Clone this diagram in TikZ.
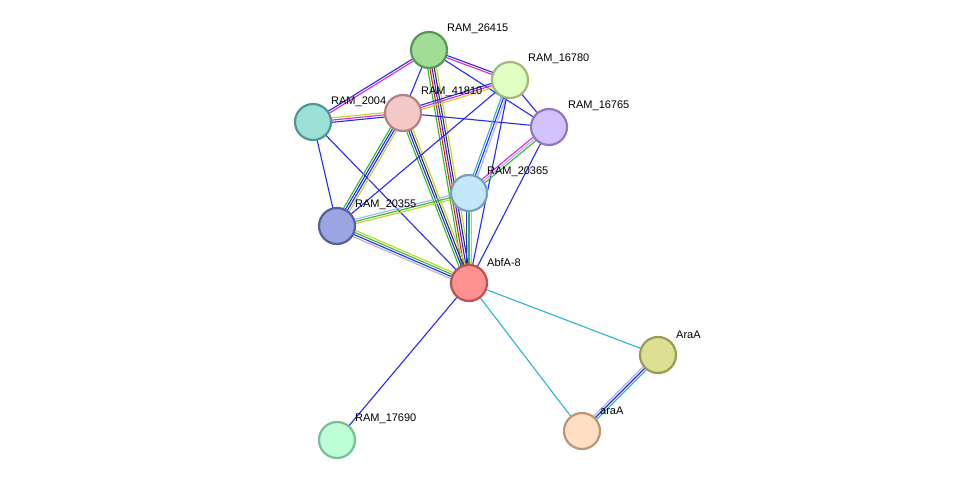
\documentclass[tikz,border=0pt]{standalone}
\usepackage{fontspec}
\setmainfont{Liberation Sans}
\usetikzlibrary{calc,backgrounds}
\definecolor{eblue}{RGB}{40,40,240}
\definecolor{emag}{RGB}{220,40,220}
\definecolor{egreen}{RGB}{40,190,40}
\definecolor{ered}{RGB}{240,30,30}
\definecolor{eblack}{RGB}{50,50,50}
\definecolor{eyel}{RGB}{190,210,40}
\definecolor{ecyan}{RGB}{40,180,210}
\definecolor{elav}{RGB}{170,170,250}
\definecolor{d1}{RGB}{90,150,90}\definecolor{f1}{RGB}{160,222,150}
\definecolor{d2}{RGB}{160,185,125}\definecolor{f2}{RGB}{225,255,195}
\definecolor{d3}{RGB}{80,150,145}\definecolor{f3}{RGB}{155,225,215}
\definecolor{d4}{RGB}{180,130,130}\definecolor{f4}{RGB}{245,200,200}
\definecolor{d5}{RGB}{145,120,190}\definecolor{f5}{RGB}{210,195,255}
\definecolor{d6}{RGB}{120,160,190}\definecolor{f6}{RGB}{195,232,252}
\definecolor{d7}{RGB}{85,95,155}\definecolor{f7}{RGB}{155,165,225}
\definecolor{d8}{RGB}{190,80,80}\definecolor{f8}{RGB}{255,145,145}
\definecolor{d9}{RGB}{155,155,85}\definecolor{f9}{RGB}{222,222,148}
\definecolor{d10}{RGB}{185,150,120}\definecolor{f10}{RGB}{255,222,195}
\definecolor{d11}{RGB}{120,190,150}\definecolor{f11}{RGB}{190,255,215}
\tikzset{
  prot/.style={circle,minimum size=36pt,inner sep=0pt,line width=2.2pt,draw=d#1,fill=f#1},
  lab/.style={font=\fontsize{11}{12}\selectfont,anchor=south west,inner sep=0pt},
  ed/.style={line width=1.1pt}
}
\newcommand\medge[4]{%
  \foreach \c [count=\i] in {#4} {%
    \pgfmathsetmacro\o{(\i-(#3+1)/2)*2.2}%
    \draw[ed,\c] ($(#1)!\o pt!90:(#2)$) -- ($(#2)!\o pt!-90:(#1)$);
  }%
}
\begin{document}
\begin{tikzpicture}[x=1pt,y=-1pt]
\useasboundingbox (0,0) rectangle (975,486);
\node[prot=1] (n26415) at (429,50) {};
\node[prot=2] (n16780) at (510,80) {};
\node[prot=3] (n2004) at (313,122) {};
\node[prot=4] (n41810) at (403,113) {};
\node[prot=5] (n16765) at (549,127) {};
\node[prot=6] (n20365) at (469,193) {};
\node[prot=7] (n20355) at (337,226) {};
\node[prot=8] (abfa) at (469,283) {};
\node[prot=9] (AraA) at (658,355) {};
\node[prot=10] (araA) at (582,431) {};
\node[prot=11] (n17690) at (337,440) {};
\begin{pgfonlayer}{background}
\medge{n26415}{n2004}{2}{eblue,emag}
\medge{n26415}{n41810}{1}{eblue}
\medge{n26415}{n16780}{2}{emag,eblue}
\medge{n26415}{n16765}{1}{eblue}
\medge{n26415}{abfa}{5}{egreen,ered,eblue,eblack,eyel}
\medge{n2004}{n41810}{3}{eblue,emag,eyel}
\medge{n2004}{n20355}{1}{eblue}
\medge{n2004}{abfa}{1}{eblue}
\medge{n41810}{n16780}{3}{eyel,emag,eblue}
\medge{n41810}{n16765}{1}{eblue}
\medge{n41810}{n20355}{4}{egreen,eblue,eblue,eyel}
\medge{n41810}{abfa}{4}{egreen,eblue,eblack,eyel}
\medge{n16780}{n20355}{1}{eblue}
\medge{n16780}{n16765}{1}{eblue}
\medge{n16780}{n20365}{3}{ecyan,eblue,elav}
\medge{n16780}{abfa}{1}{eblue}
\medge{n16765}{n20365}{3}{emag,elav,egreen}
\medge{n16765}{abfa}{1}{eblue}
\medge{n20365}{n20355}{3}{elav,egreen,eyel}
\medge{n20365}{abfa}{3}{eblue,egreen,eyel}
\medge{n20355}{abfa}{4}{elav,eblue,egreen,eyel}
\medge{abfa}{AraA}{1}{ecyan}
\medge{abfa}{araA}{1}{ecyan}
\medge{abfa}{n17690}{1}{eblue}
\medge{AraA}{araA}{3}{elav,eblue,ecyan}
\end{pgfonlayer}
\node[lab] (l1) at (447,34) {RAM\_26415};
\node[lab] (l2) at (528,64) {RAM\_16780};
\node[lab] (l3) at (331,107) {RAM\_2004};
\node[lab] (l4) at (421,97) {RAM\_41810};
\node[lab] (l5) at (568,111) {RAM\_16765};
\node[lab] (l6) at (487,177) {RAM\_20365};
\node[lab] (l7) at (355,210) {RAM\_20355};
\node[lab] (l8) at (487,267) {AbfA-8};
\node[lab] (l9) at (676,339) {AraA};
\node[lab] (l10) at (600,415) {araA};
\node[lab] (l11) at (355,424) {RAM\_17690};
\end{tikzpicture}
\end{document}
